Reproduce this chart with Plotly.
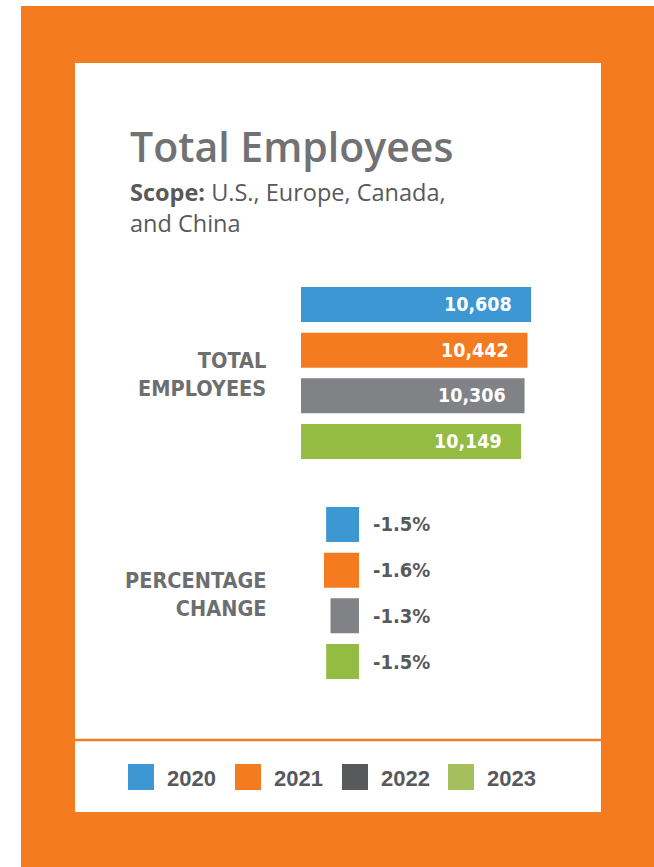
import plotly.graph_objects as go

W, H = 654, 867

years = ["2020", "2021", "2022", "2023"]
employees = [10608, 10442, 10306, 10149]
pct_change = [-1.5, -1.6, -1.3, -1.5]
pct_labels = ["-1.5%", "-1.6%", "-1.3%", "-1.5%"]
bar_colors = ["#3d97d3", "#f47b20", "#818285", "#94bc43"]
legend_colors = ["#3d97d3", "#f47b20", "#58595b", "#a6bf5e"]

title_text = "Total Employees"
subtitle_text = "<b>Scope:</b> U.S., Europe, Canada,<br>and China"
row1_label = "TOTAL<br>EMPLOYEES"
row2_label = "PERCENTAGE<br>CHANGE"

ORANGE = "#f47b20"
COND = "DejaVu Sans Condensed, Liberation Sans Narrow, Arial Narrow, sans-serif"
SANS = "Open Sans, Lato, sans-serif"


def px(x):
    return x / W


def py(y):
    return 1 - y / H


fig = go.Figure()

fig.add_trace(go.Bar(
    x=employees, y=years, orientation="h",
    marker=dict(color=bar_colors, line=dict(width=0)),
    xaxis="x", yaxis="y", showlegend=False, hoverinfo="x+y",
))
fig.add_trace(go.Bar(
    x=pct_change, y=years, orientation="h",
    marker=dict(color=bar_colors, line=dict(width=0)),
    xaxis="x2", yaxis="y2", showlegend=False, hoverinfo="x+y",
))

annotations = []
for i, v in enumerate(employees):
    annotations.append(dict(
        x=v, y=i, xref="x", yref="y", text=f"{v:,}", showarrow=False,
        xanchor="right", xshift=-17, yanchor="middle",
        font=dict(family=COND, size=19.5, color="white", weight="bold"),
    ))
for i, t in enumerate(pct_labels):
    annotations.append(dict(
        x=0, y=i, xref="x2", yref="y2", text=t, showarrow=False,
        xanchor="left", xshift=12, yanchor="middle",
        font=dict(family=COND, size=20, color="#58595b", weight="bold"),
    ))

annotations += [
    dict(x=px(128), y=py(146), xref="paper", yref="paper", text=title_text,
         showarrow=False, xanchor="left", yanchor="middle",
         font=dict(family=SANS, size=41, color="#707273", weight=600)),
    dict(x=px(128), y=py(207), xref="paper", yref="paper", text=subtitle_text,
         showarrow=False, xanchor="left", yanchor="middle", align="left",
         font=dict(family=SANS, size=23.5, color="#58595b")),
    dict(x=px(268), y=py(374), xref="paper", yref="paper", text=row1_label,
         showarrow=False, xanchor="right", yanchor="middle", align="right",
         font=dict(family=COND, size=21.5, color="#6d6e70", weight="bold")),
    dict(x=px(268), y=py(594), xref="paper", yref="paper", text=row2_label,
         showarrow=False, xanchor="right", yanchor="middle", align="right",
         font=dict(family=COND, size=21.5, color="#6d6e70", weight="bold")),
]

shapes = [
    dict(type="rect", xref="paper", yref="paper", x0=px(21), x1=1.0, y0=0, y1=py(6),
         fillcolor=ORANGE, line=dict(width=0), layer="below"),
    dict(type="rect", xref="paper", yref="paper", x0=px(75), x1=px(601), y0=py(812), y1=py(63),
         fillcolor="white", line=dict(width=0), layer="below"),
    dict(type="line", xref="paper", yref="paper", x0=px(75), x1=px(601), y0=py(740), y1=py(740),
         line=dict(color=ORANGE, width=2.5)),
]

# legend
leg_x = [128, 235, 342, 448]
for x0, yr, c in zip(leg_x, years, legend_colors):
    shapes.append(dict(type="rect", xref="paper", yref="paper",
                       x0=px(x0), x1=px(x0 + 26), y0=py(790), y1=py(764),
                       fillcolor=c, line=dict(width=0)))
    annotations.append(dict(x=px(x0 + 37), y=py(778), xref="paper", yref="paper", text=yr,
                            showarrow=False, xanchor="left", yanchor="middle",
                            font=dict(family="Liberation Sans, Arial, sans-serif", size=22,
                                      color="#58595b", weight="bold")))

# bar geometry
scale1 = 46.1  # value units per pixel
scale2 = 1 / 21.9
n = len(years)
fig.update_layout(
    width=W, height=H,
    margin=dict(l=0, r=0, t=0, b=0),
    paper_bgcolor="white", plot_bgcolor="rgba(0,0,0,0)",
    bargap=0.234,
    xaxis=dict(domain=[px(301), 1.0], range=[0, (W - 301) * scale1], visible=False, fixedrange=True),
    yaxis=dict(domain=[py(464.4), py(281.6)], type="category", range=[n - 0.5, -0.5],
               visible=False, fixedrange=True),
    xaxis2=dict(domain=[0, px(359)], range=[-359 * scale2, 0], visible=False, fixedrange=True,
                anchor="y2"),
    yaxis2=dict(domain=[py(684.4), py(501.6)], type="category", range=[n - 0.5, -0.5],
                visible=False, fixedrange=True, anchor="x2"),
    shapes=shapes,
    annotations=annotations,
)

fig.write_html("out.html", config={"displayModeBar": False},
               post_script="document.body.style.margin='0px';")
